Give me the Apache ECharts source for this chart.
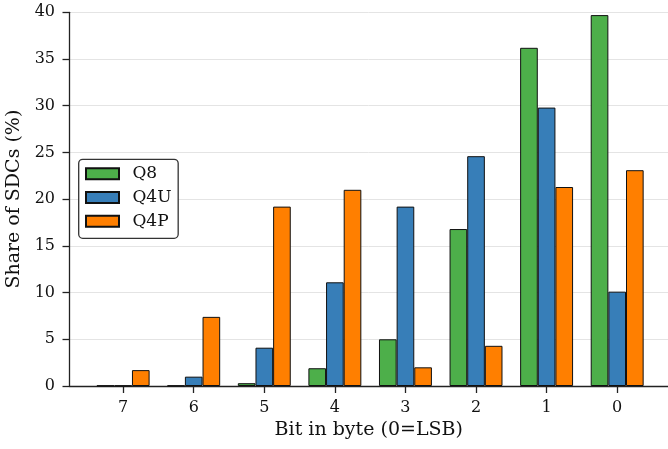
<!DOCTYPE html>
<html>
<head>
<meta charset="utf-8">
<script src="https://cdn.jsdelivr.net/npm/echarts@6/dist/echarts.min.js"></script>
<style>
html,body{margin:0;padding:0;background:#fff;}
#chart{width:668px;height:449px;}
</style>
</head>
<body>
<div id="chart"></div>
<script>
// bit positions, left to right
const bits = ['7', '6', '5', '4', '3', '2', '1', '0'];
const q8   = [0.05, 0.05, 0.3, 1.9, 5.0, 16.8, 36.2, 39.7];
const q4u  = [0.05, 1.0, 4.1, 11.1, 19.2, 24.6, 29.8, 10.1];
const q4p  = [1.7, 7.4, 19.2, 21.0, 2.0, 4.3, 21.3, 23.1];
const yTicks = [0, 5, 10, 15, 20, 25, 30, 35, 40];

const font = '"DejaVu Serif", serif';
const barW = 0.25;   // bar width in bit units
const pxPerUnit = 598.5 / (7.72 + 0.76);

// each group: Q8 left, Q4U centre, Q4P right
function place(vals, off){
    return vals.map((v, i) => [i + off, v]);
}

function barSeries(name, vals, off, color){
    return {
        name: name,
        type: 'bar',
        data: place(vals, off),
        barWidth: barW * pxPerUnit,
        barGap: '-100%',
        itemStyle: {color: color, borderColor: '#111', borderWidth: 1},
        emphasis: {disabled: true}
    };
}

const chart = echarts.init(document.getElementById('chart'));
chart.setOption({
    animation: false,
    textStyle: {fontFamily: font},
    grid: {left: 69.5, right: 0, top: 12.3, bottom: 63, containLabel: false, outerBoundsMode: 'none'},
    legend: {
        left: 78.7,
        top: 159.3,
        orient: 'vertical',
        icon: 'rect',
        itemWidth: 33,
        itemHeight: 11,
        itemGap: 6.7,
        padding: [6, 6.7, 8.6, 6.3],
        backgroundColor: '#fff',
        borderColor: '#333',
        borderWidth: 1.3,
        borderRadius: 4,
        textStyle: {fontFamily: font, fontSize: 17, color: '#111', lineHeight: 17, padding: [0, 0, 0, 8.4]},
        data: ['Q8', 'Q4U', 'Q4P']
    },
    xAxis: {
        type: 'value',
        min: -0.76,
        max: 7.72,
        name: 'Bit in byte (0=LSB)',
        nameLocation: 'middle',
        nameGap: 34.5,
        nameTextStyle: {fontFamily: font, fontSize: 19, color: '#111'},
        splitLine: {show: false},
        axisLine: {show: true, lineStyle: {color: '#222', width: 1.3}},
        axisTick: {show: true, length: 7, customValues: bits.map((b, i) => i), lineStyle: {color: '#222', width: 1.3}},
        axisLabel: {
            customValues: bits.map((b, i) => i),
            formatter: v => bits[Math.round(v)],
            margin: 13.5,
            fontFamily: font,
            fontSize: 16,
            color: '#111'
        }
    },
    yAxis: {
        type: 'value',
        min: 0,
        max: 40,
        interval: 5,
        name: 'Share of SDCs (%)',
        nameLocation: 'middle',
        nameGap: 44.3,
        nameTextStyle: {fontFamily: font, fontSize: 19, color: '#111'},
        axisLine: {show: true, onZero: false, lineStyle: {color: '#222', width: 1.3}},
        axisTick: {show: true, length: 7, lineStyle: {color: '#222', width: 1.3}},
        axisLabel: {
            customValues: yTicks,
            margin: 14.5,
            fontFamily: font,
            fontSize: 16,
            color: '#111'
        },
        splitLine: {show: true, lineStyle: {color: '#e4e4e4', width: 1}}
    },
    series: [
        barSeries('Q8', q8, -barW, '#4daf4a'),
        barSeries('Q4U', q4u, 0, '#377eb8'),
        barSeries('Q4P', q4p, barW, '#ff7f00')
    ]
});
</script>
</body>
</html>
